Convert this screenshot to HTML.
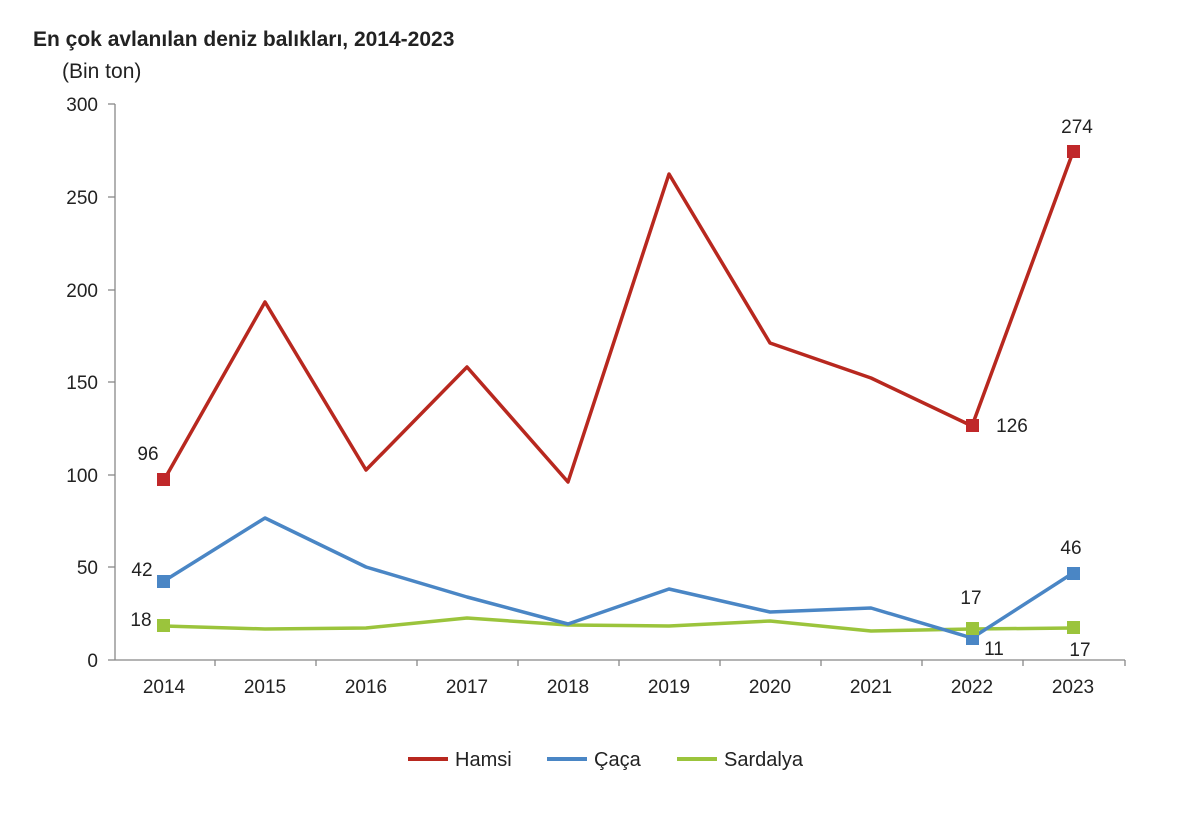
<!DOCTYPE html>
<html><head><meta charset="utf-8"><style>
body{margin:0;background:#fff;}
svg text{font-family:"Liberation Sans",Arial,sans-serif;fill:#222;}
</style></head><body>
<svg width="1200" height="825" viewBox="0 0 1200 825" xmlns="http://www.w3.org/2000/svg">
<text x="33" y="46" font-size="21" font-weight="bold" fill="#000">En çok avlanılan deniz balıkları, 2014-2023</text>
<text x="62" y="78" font-size="21">(Bin ton)</text>
<g stroke="#888" stroke-width="1.3">
<line x1="115" y1="104" x2="115" y2="660"/>
<line x1="115" y1="660" x2="1125" y2="660"/>
<line x1="108" y1="104" x2="115" y2="104"/><line x1="108" y1="197" x2="115" y2="197"/>
<line x1="108" y1="290" x2="115" y2="290"/><line x1="108" y1="382" x2="115" y2="382"/>
<line x1="108" y1="475" x2="115" y2="475"/><line x1="108" y1="567" x2="115" y2="567"/>
<line x1="108" y1="660" x2="115" y2="660"/>
<line x1="215" y1="660" x2="215" y2="666"/><line x1="316" y1="660" x2="316" y2="666"/><line x1="417" y1="660" x2="417" y2="666"/><line x1="518" y1="660" x2="518" y2="666"/><line x1="619" y1="660" x2="619" y2="666"/><line x1="720" y1="660" x2="720" y2="666"/><line x1="821" y1="660" x2="821" y2="666"/><line x1="922" y1="660" x2="922" y2="666"/><line x1="1023" y1="660" x2="1023" y2="666"/><line x1="1125" y1="660" x2="1125" y2="666"/>
</g>
<g font-size="19" text-anchor="end">
<text x="98" y="111">300</text><text x="98" y="204">250</text><text x="98" y="297">200</text><text x="98" y="389">150</text><text x="98" y="482">100</text><text x="98" y="574">50</text><text x="98" y="667">0</text>
</g>
<g font-size="19" text-anchor="middle">
<text x="164" y="693">2014</text><text x="265" y="693">2015</text><text x="366" y="693">2016</text><text x="467" y="693">2017</text><text x="568" y="693">2018</text><text x="669" y="693">2019</text><text x="770" y="693">2020</text><text x="871" y="693">2021</text><text x="972" y="693">2022</text><text x="1073" y="693">2023</text>
</g>
<g fill="none" stroke-width="3.5" stroke-linejoin="round">
<polyline stroke="#9bc43c" points="164,626 265,629 366,628 467,618 568,625 669,626 770,621 871,631 972,629 1073,628"/>
<polyline stroke="#4a86c5" points="164,581 265,518 366,567 467,597 568,624 669,589 770,612 871,608 972,638 1073,573"/>
<polyline stroke="#b8281f" points="164,480 265,302 366,470 467,367 568,482 669,174 770,343 871,378 972,426 1073,152"/>
</g>
<g>
<rect x="157" y="473" width="13" height="13" fill="#c0282a"/><rect x="966" y="419" width="13" height="13" fill="#c0282a"/><rect x="1067" y="145" width="13" height="13" fill="#c0282a"/>
<rect x="157" y="575" width="13" height="13" fill="#4a86c5"/><rect x="966" y="632" width="13" height="13" fill="#4a86c5"/><rect x="1067" y="567" width="13" height="13" fill="#4a86c5"/>
<rect x="157" y="619" width="13" height="13" fill="#9bc43c"/><rect x="966" y="622" width="13" height="13" fill="#9bc43c"/><rect x="1067" y="621" width="13" height="13" fill="#9bc43c"/>
</g>
<g font-size="19" text-anchor="middle">
<text x="148" y="460">96</text><text x="1012" y="432">126</text><text x="1077" y="133">274</text>
<text x="142" y="576">42</text><text x="994" y="655">11</text><text x="1071" y="554">46</text>
<text x="141" y="626">18</text><text x="971" y="604">17</text><text x="1080" y="656">17</text>
</g>
<g stroke-width="4">
<line x1="408" y1="759" x2="448" y2="759" stroke="#b8281f"/>
<line x1="547" y1="759" x2="587" y2="759" stroke="#4a86c5"/>
<line x1="677" y1="759" x2="717" y2="759" stroke="#9bc43c"/>
</g>
<g font-size="20"><text x="455" y="766">Hamsi</text><text x="594" y="766">Çaça</text><text x="724" y="766">Sardalya</text></g>
</svg>
</body></html>
